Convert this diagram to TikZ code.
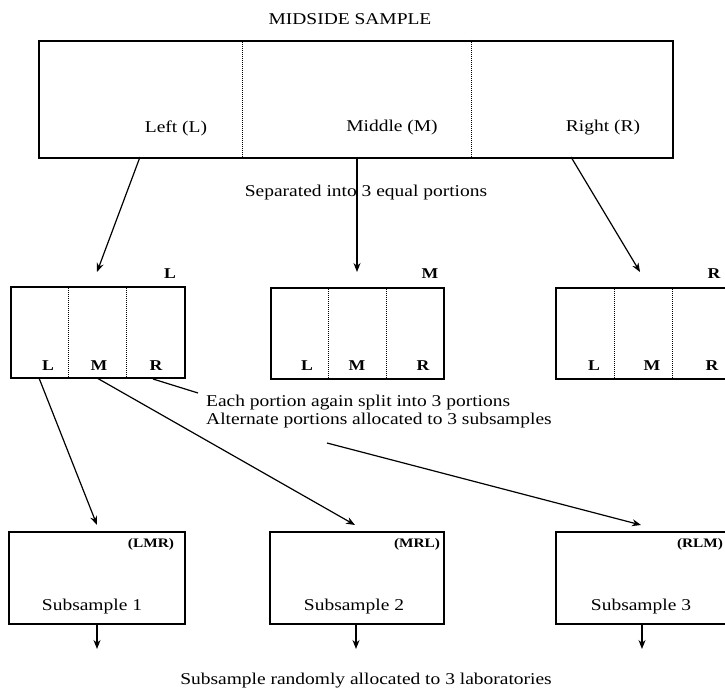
\documentclass[tikz,border=0pt]{standalone}
\usepackage{fontspec}
\setmainfont{Liberation Serif}[FakeStretch=1.18]
\usetikzlibrary{arrows.meta}
\begin{document}
\begin{tikzpicture}[x=1pt,y=-1pt,
  box/.style={draw, line width=2pt, inner sep=0pt, anchor=north west},
  div/.style={densely dotted, line width=1pt},
  arr/.style={-{Stealth[length=9pt,width=7pt]}, line width=1.2pt},
  ln/.style={line width=1.2pt},
  txt/.style={font=\fontsize{16.5}{19}\selectfont, inner sep=0pt},
  lab/.style={font=\bfseries\fontsize{15}{18}\selectfont, inner sep=0pt},
  small/.style={font=\bfseries\fontsize{13}{15}\selectfont, inner sep=0pt}]
\useasboundingbox (0,0) rectangle (725,692);

% title
\node[txt] (title) at (350,19) {MIDSIDE SAMPLE};

% top box
\node[box, minimum width=634pt, minimum height=117pt] (top) at (38,40) {};
\draw[div] (242,40) -- (242,157);
\draw[div] (471,40) -- (471,157);
\node[txt] (tl) at (176,128) {Left (L)};
\node[txt] (tm) at (392,128) {Middle (M)};
\node[txt] (tr) at (603,128) {Right (R)};

\node[txt] (sep) at (366,193) {Separated into 3 equal portions};

% row 2 boxes
\node[box, minimum width=174pt, minimum height=91pt] (b1) at (10,286) {};
\node[box, minimum width=173pt, minimum height=91pt] (b2) at (270,287) {};
\node[box, minimum width=174pt, minimum height=91pt] (b3) at (555,287) {};
\draw[div] (68,286) -- (68,377);
\draw[div] (126,286) -- (126,377);
\draw[div] (328,287) -- (328,378);
\draw[div] (386,287) -- (386,378);
\draw[div] (614,287) -- (614,378);
\draw[div] (672,287) -- (672,378);

\node[lab] (h1) at (170,274) {L};
\node[lab] (h2) at (430,274) {M};
\node[lab] (h3) at (714,274) {R};

\node[lab] (b1l) at (48,366) {L};
\node[lab] (b1m) at (99,366) {M};
\node[lab] (b1r) at (156,366) {R};
\node[lab] (b2l) at (307,366) {L};
\node[lab] (b2m) at (357,366) {M};
\node[lab] (b2r) at (423,366) {R};
\node[lab] (b3l) at (594,366) {L};
\node[lab] (b3m) at (652,366) {M};
\node[lab] (b3r) at (712,366) {R};

\node[txt, anchor=west] (each) at (206,403) {Each portion again split into 3 portions};
\node[txt, anchor=west] (alt) at (206,421) {Alternate portions allocated to 3 subsamples};

% row 3 boxes
\node[box, minimum width=176pt, minimum height=92pt] (s1) at (8,531) {};
\node[box, minimum width=174pt, minimum height=92pt] (s2) at (269,531) {};
\node[box, minimum width=175pt, minimum height=92pt] (s3) at (555,531) {};
\node[small] (c1) at (151,544) {(LMR)};
\node[small] (c2) at (417,544) {(MRL)};
\node[small] (c3) at (700,544) {(RLM)};
\node[txt] (n1) at (92,607) {Subsample 1};
\node[txt] (n2) at (354,607) {Subsample 2};
\node[txt] (n3) at (641,607) {Subsample 3};

\node[txt] (bottom) at (366,681) {Subsample randomly allocated to 3 laboratories};

% connector end points
\coordinate (p1) at (140,157);
\coordinate (p2) at (357,157);
\coordinate (p3) at (571,157);
\coordinate (q1) at (97,272);
\coordinate (q2) at (357,272);
\coordinate (q3) at (640,272);
\coordinate (r1) at (39,378);
\coordinate (r2) at (97,378);
\coordinate (r3) at (153,379);
\coordinate (r3e) at (198,393);
\coordinate (r4) at (327,443);
\coordinate (t1) at (97,525);
\coordinate (t2) at (355,525);
\coordinate (t3) at (641,525);
\coordinate (d1) at (97,623);
\coordinate (d2) at (356,623);
\coordinate (d3) at (642,623);
\coordinate (e1) at (97,649);
\coordinate (e2) at (356,649);
\coordinate (e3) at (642,649);

\draw[arr] (p1) -- (q1);
\draw[arr] (p2) -- (q2);
\draw[arr] (p3) -- (q3);
\draw[arr] (r1) -- (t1);
\draw[arr] (r2) -- (t2);
\draw[arr] (r4) -- (t3);
\draw[ln] (r3) -- (r3e);
\draw[arr] (d1) -- (e1);
\draw[arr] (d2) -- (e2);
\draw[arr] (d3) -- (e3);
\end{tikzpicture}
\end{document}
